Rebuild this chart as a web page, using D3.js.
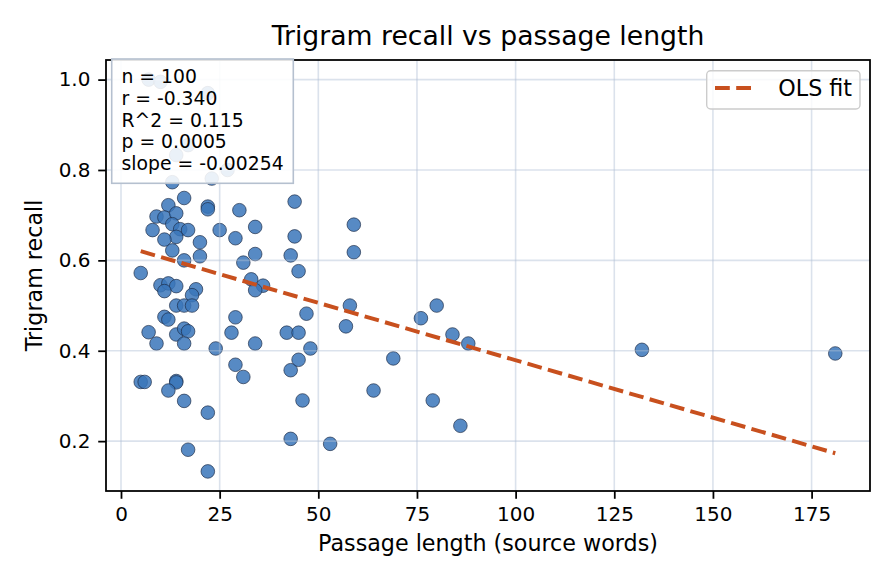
<!DOCTYPE html>
<html>
<head>
<meta charset="utf-8">
<script src="https://cdn.jsdelivr.net/npm/d3@7"></script>
<style>
  html, body { margin: 0; padding: 0; background: white; }
</style>
</head>
<body>
<div id="chart"></div>
<script>
// data: passage length (words) and trigram recall
const lengths = [
  7, 10, 14, 17, 23, 27, 13, 16, 12, 22, 22, 30, 44, 9, 11, 14, 13, 8, 15, 17,
  14, 11, 25, 29, 34, 44, 20, 13, 20, 34, 43, 16, 31, 45, 5, 10, 12, 14, 11, 19,
  18, 33, 36, 34, 14, 16, 18, 11, 12, 29, 47, 7, 9, 14, 16, 17, 16, 28, 34, 42,
  45, 24, 29, 43, 45, 5, 6, 14, 14, 12, 16, 22, 31, 46, 43, 17, 22, 59, 59, 58,
  57, 48, 53, 64, 69, 76, 80, 84, 88, 79, 86, 132, 181, 22
];
const recall = [
  1.000, 0.995, 0.833, 0.855, 0.781, 0.800, 0.773, 0.738, 0.722, 0.719, 0.713, 0.711, 0.730, 0.697, 0.695, 0.704, 0.680, 0.667, 0.669, 0.667,
  0.652, 0.646, 0.667, 0.649, 0.674, 0.653, 0.640, 0.622, 0.609, 0.614, 0.611, 0.600, 0.595, 0.576, 0.572, 0.545, 0.549, 0.543, 0.532, 0.536,
  0.523, 0.558, 0.544, 0.534, 0.500, 0.500, 0.500, 0.475, 0.469, 0.474, 0.482, 0.441, 0.416, 0.436, 0.449, 0.443, 0.416, 0.440, 0.416, 0.440,
  0.440, 0.405, 0.369, 0.357, 0.380, 0.331, 0.331, 0.333, 0.330, 0.312, 0.289, 0.263, 0.342, 0.290, 0.205, 0.181, 0.133, 0.679, 0.618, 0.500,
  0.454, 0.405, 0.194, 0.312, 0.383, 0.472, 0.500, 0.436, 0.416, 0.290, 0.234, 0.402, 0.394, 0.970
];

// fit + stats as printed in the box
const fitSlope = -0.00254;
const fitIntercept = 0.633;
const statLines = ["n = 100", "r = -0.340", "R^2 = 0.115", "p = 0.0005", "slope = -0.00254"];

const xTicks = [0, 25, 50, 75, 100, 125, 150, 175];
const yTicks = [0.2, 0.4, 0.6, 0.8, 1.0];

const titleText = "Trigram recall vs passage length";
const xLabel = "Passage length (source words)";
const yLabel = "Trigram recall";
const legendLabel = "OLS fit";

// layout (figure looks like 160 dpi)
const width = 896;
const height = 584;
const marginLeft = 106;
const marginRight = 26;
const marginTop = 60;
const marginBottom = 93;
const font = "DejaVu Sans, sans-serif";
const pt = 160 / 72;
const fitColor = "#c8501e";
const dash = `${3.7 * 1.8 * pt},${1.6 * 1.8 * pt}`;

const data = lengths.map((d, i) => ({ x: d, y: recall[i] }));

// matplotlib-ish 5% padding
const pad = (ext) => {
  const m = (ext[1] - ext[0]) * 0.05;
  return [ext[0] - m, ext[1] + m];
};

const x = d3.scaleLinear()
  .domain(pad(d3.extent(lengths)))
  .range([marginLeft, width - marginRight]);

const y = d3.scaleLinear()
  .domain(pad(d3.extent(recall)))
  .range([height - marginBottom, marginTop]);

const svg = d3.create("svg")
  .attr("width", width)
  .attr("height", height)
  .attr("viewBox", [0, 0, width, height])
  .attr("font-family", font)
  .style("display", "block");

svg.append("rect")
  .attr("width", width)
  .attr("height", height)
  .attr("fill", "white");

// points
svg.append("g")
  .selectAll()
  .data(data)
  .join("circle")
  .attr("cx", d => x(d.x))
  .attr("cy", d => y(d.y))
  .attr("r", 6.8)
  .attr("fill", "#3a75ba")
  .attr("fill-opacity", 0.85)
  .attr("stroke", "#1c2b45")
  .attr("stroke-opacity", 0.85)
  .attr("stroke-width", 0.8);

// grid sits above the scatter, below the fit line
const grid = svg.append("g")
  .attr("stroke", "#b0bfd4")
  .attr("stroke-opacity", 0.45)
  .attr("stroke-width", 1.6);
grid.selectAll()
  .data(xTicks)
  .join("line")
  .attr("x1", d => x(d))
  .attr("x2", d => x(d))
  .attr("y1", marginTop)
  .attr("y2", height - marginBottom);
grid.selectAll()
  .data(yTicks)
  .join("line")
  .attr("x1", marginLeft)
  .attr("x2", width - marginRight)
  .attr("y1", d => y(d))
  .attr("y2", d => y(d));

// OLS fit line across the data range
const fitX = d3.extent(lengths);
const line = d3.line()
  .x(d => x(d))
  .y(d => y(fitIntercept + fitSlope * d));
svg.append("path")
  .attr("d", line(fitX))
  .attr("fill", "none")
  .attr("stroke", fitColor)
  .attr("stroke-width", 1.8 * pt)
  .attr("stroke-dasharray", dash);

// axes
const xAxis = d3.axisBottom(x)
  .tickValues(xTicks)
  .tickSize(3.5 * pt)
  .tickPadding(3.5 * pt)
  .tickFormat(d3.format("d"));
const yAxis = d3.axisLeft(y)
  .tickValues(yTicks)
  .tickSize(3.5 * pt)
  .tickPadding(3.5 * pt)
  .tickFormat(d3.format(".1f"));

const styleAxis = (g) => {
  g.select(".domain").remove();
  g.selectAll(".tick line").attr("stroke", "black").attr("stroke-width", 0.8 * pt);
  g.selectAll(".tick text")
    .attr("font-family", font)
    .attr("font-size", 9 * pt)
    .attr("fill", "black");
};

svg.append("g")
  .attr("transform", `translate(0,${height - marginBottom})`)
  .call(xAxis)
  .call(styleAxis);

svg.append("g")
  .attr("transform", `translate(${marginLeft},0)`)
  .call(yAxis)
  .call(styleAxis);

// spines
svg.append("rect")
  .attr("x", marginLeft)
  .attr("y", marginTop)
  .attr("width", width - marginLeft - marginRight)
  .attr("height", height - marginTop - marginBottom)
  .attr("fill", "none")
  .attr("stroke", "black")
  .attr("stroke-width", 0.8 * pt);

// stats box
const stats = svg.append("g");
stats.append("rect")
  .attr("x", 111.7)
  .attr("y", 59)
  .attr("width", 181.6)
  .attr("height", 124.3)
  .attr("fill", "white")
  .attr("fill-opacity", 0.88)
  .attr("stroke", "#b5c0cf")
  .attr("stroke-width", 1.6);
stats.selectAll("text")
  .data(statLines)
  .join("text")
  .attr("x", 121.5)
  .attr("y", (d, i) => 83.3 + i * 21.7)
  .attr("font-size", 18.8)
  .attr("fill", "black")
  .text(d => d);

// legend
const legend = svg.append("g");
legend.append("rect")
  .attr("x", 706.7)
  .attr("y", 70.7)
  .attr("width", 153.3)
  .attr("height", 38.3)
  .attr("rx", 4)
  .attr("fill", "white")
  .attr("fill-opacity", 0.8)
  .attr("stroke", "#cccccc")
  .attr("stroke-width", 1.4);
legend.append("line")
  .attr("x1", 715)
  .attr("x2", 754)
  .attr("y1", 88)
  .attr("y2", 88)
  .attr("stroke", fitColor)
  .attr("stroke-width", 1.8 * pt)
  .attr("stroke-dasharray", dash);
legend.append("text")
  .attr("x", 778.3)
  .attr("y", 95.7)
  .attr("font-size", 10 * pt)
  .attr("fill", "black")
  .text(legendLabel);

// title and labels
svg.append("text")
  .attr("x", (marginLeft + width - marginRight) / 2)
  .attr("y", 45)
  .attr("text-anchor", "middle")
  .attr("font-size", 12 * pt)
  .attr("fill", "black")
  .text(titleText);

svg.append("text")
  .attr("x", (marginLeft + width - marginRight) / 2)
  .attr("y", 551)
  .attr("text-anchor", "middle")
  .attr("font-size", 10 * pt)
  .attr("fill", "black")
  .text(xLabel);

svg.append("text")
  .attr("transform", `translate(42,${(marginTop + height - marginBottom) / 2}) rotate(-90)`)
  .attr("text-anchor", "middle")
  .attr("font-size", 10 * pt)
  .attr("fill", "black")
  .text(yLabel);

document.getElementById("chart").appendChild(svg.node());
</script>
</body>
</html>
